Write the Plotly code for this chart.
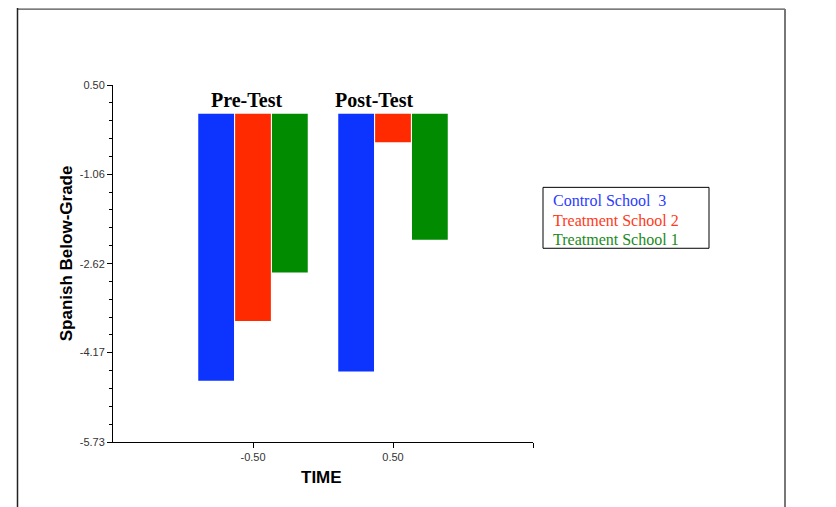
import plotly.graph_objects as go

# ---- data ----
time_points = [-0.5, 0.5]
phase_labels = ["Pre-Test", "Post-Test"]
series_names = ["Control School  3", "Treatment School 2", "Treatment School 1"]
control_3 = [-4.66, -4.50]
treatment_2 = [-3.62, -0.50]
treatment_1 = [-2.77, -2.20]
y_tick_vals = [0.50, -1.06, -2.62, -4.17, -5.73]
y_tick_text = ["0.50", "-1.06", "-2.62", "-4.17", "-5.73"]
x_tick_vals = [-0.5, 0.5, 1.5]
x_tick_text = ["-0.50", "0.50", ""]

colors = ["#0D33FF", "#FF2A00", "#008B00"]
legend_colors = ["#2a3cff", "#ff3a1a", "#1a8a1a"]

OFF = 8  # page body margin
W, H = 836 - OFF, 507 - OFF
# plot area in page pixels
PL, PR, PT, PB = 113, 533, 84.5, 442
L, R, T, B = PL - OFF, PR - OFF, PT - OFF, PB - OFF


def px(x):  # page pixel -> paper
    return (x - PL) / (PR - PL)


def py(y):
    return (PB - y) / (PB - PT)


fig = go.Figure()
for name, vals, c in zip(series_names, [control_3, treatment_2, treatment_1], colors):
    fig.add_trace(go.Bar(x=time_points, y=vals, name=name, marker=dict(color=c, line=dict(width=0)),
                         showlegend=False))

axis_font = dict(family="Arial, Liberation Sans, sans-serif", size=11, color="#333333")

fig.update_layout(
    width=W, height=H,
    margin=dict(l=L, r=W - R, t=T, b=H - B, pad=0),
    paper_bgcolor="white", plot_bgcolor="white",
    barmode="group", bargap=0.21, bargroupgap=0.03,
    xaxis=dict(range=[-1.5, 1.5], tickmode="array", tickvals=x_tick_vals, ticktext=x_tick_text,
               showgrid=False, zeroline=False, showline=True, linecolor="black", linewidth=1,
               ticks="outside", ticklen=5, tickcolor="black", tickfont=axis_font),
    yaxis=dict(range=[-5.73, 0.5], tickmode="array", tickvals=y_tick_vals, ticktext=y_tick_text,
               showgrid=False, zeroline=False, showline=True, linecolor="black", linewidth=1,
               ticks="outside", ticklen=5, tickcolor="black", tickfont=axis_font,
               minor=dict(tick0=0.5, dtick=1.5575 / 5, ticks="outside", ticklen=3,
                          tickcolor="black", showgrid=False)),
    font=dict(family="Arial, Liberation Sans, sans-serif"),
)

ann = []
serif = "Times New Roman, Liberation Serif, serif"
ann.append(dict(x=time_points[0], y=py(99.5), xref="x", yref="paper", xshift=-6.5,
                text="<b>" + phase_labels[0] + "</b>", showarrow=False,
                font=dict(family=serif, size=20, color="black"), xanchor="center", yanchor="middle"))
ann.append(dict(x=time_points[1], y=py(99.5), xref="x", yref="paper", xshift=-19,
                text="<b>" + phase_labels[1] + "</b>", showarrow=False,
                font=dict(family=serif, size=20, color="black"), xanchor="center", yanchor="middle"))
ann.append(dict(x=px(66), y=py(253), xref="paper", yref="paper", text="<b>Spanish Below-Grade</b>",
                textangle=-90, showarrow=False, xanchor="center", yanchor="middle",
                font=dict(family="Arial, Liberation Sans, sans-serif", size=17, color="black")))
ann.append(dict(x=px(321), y=py(478), xref="paper", yref="paper", text="<b>TIME</b>",
                showarrow=False, xanchor="center", yanchor="middle",
                font=dict(family="Arial, Liberation Sans, sans-serif", size=17, color="black")))
for i, (name, c) in enumerate(zip(series_names, legend_colors)):
    ann.append(dict(x=px(551), y=py([200.5, 220.5, 239.5][i]), xref="paper", yref="paper",
                    text=name.replace("  ", "&nbsp; "), showarrow=False, xanchor="left", yanchor="middle",
                    font=dict(family=serif, size=16, color=c)))
fig.update_layout(annotations=ann)

shapes = [
    dict(type="rect", xref="paper", yref="paper", x0=px(543), x1=px(709), y0=py(248), y1=py(187),
         line=dict(color="black", width=1), fillcolor="rgba(0,0,0,0)"),
    dict(type="line", xref="paper", yref="paper", x0=px(17.5), x1=px(17.5), y0=py(0), y1=py(520),
         line=dict(color="#222222", width=1.5)),
    dict(type="line", xref="paper", yref="paper", x0=px(17.5), x1=px(785), y0=py(8.5), y1=py(8.5),
         line=dict(color="#222222", width=1)),
    dict(type="line", xref="paper", yref="paper", x0=px(785), x1=px(785), y0=py(8.5), y1=py(520),
         line=dict(color="#777777", width=2)),
    dict(type="line", xref="paper", yref="paper", x0=px(834.5), x1=px(834.5), y0=py(0), y1=py(520),
         line=dict(color="#222222", width=1.5)),
]
fig.update_layout(shapes=shapes)

fig.write_html("out.html")
